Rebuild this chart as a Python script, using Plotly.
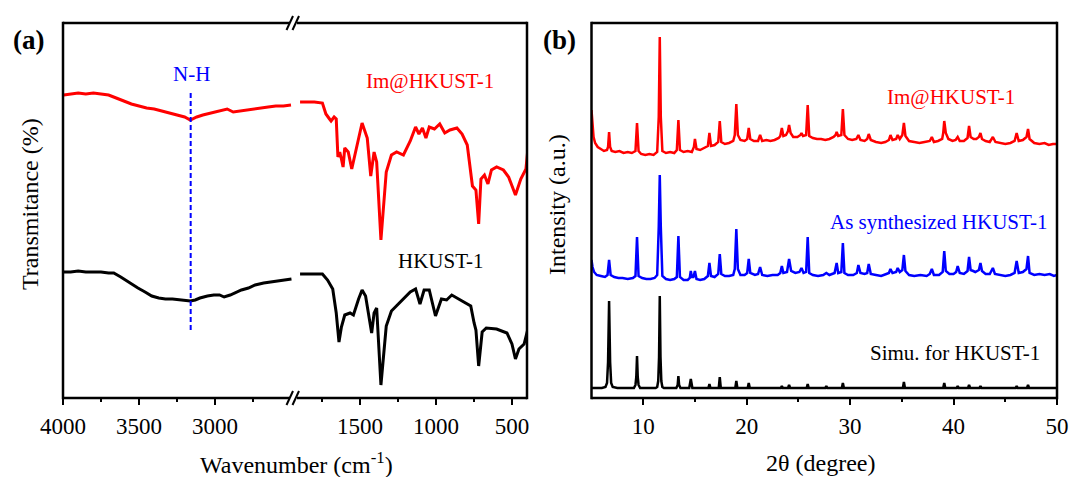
import plotly.graph_objects as go

# ---------------- FTIR spectra (panel a) ----------------
# high-wavenumber segment (4000-2500 cm-1): (wavenumber, transmittance a.u.)
FTIR_IM_HIGH = [
    (3995, 303), (3950, 304), (3900, 305), (3850, 304), (3800, 305), (3750, 304),
    (3700, 303), (3650, 300), (3600, 297), (3550, 294), (3500, 292), (3450, 290),
    (3400, 289), (3350, 287), (3300, 285), (3250, 283), (3200, 281), (3162, 278),
    (3120, 281), (3080, 283), (3050, 284), (3000, 286), (2960, 287), (2920, 289),
    (2880, 286), (2840, 287), (2800, 288), (2750, 289), (2700, 290), (2650, 291),
    (2600, 292), (2550, 292), (2500, 293),
]
# low-wavenumber segment (1900-400 cm-1)
FTIR_IM_LOW = [
    (1894, 296), (1800, 296), (1747, 295), (1724, 284), (1700, 279), (1690, 277),
    (1670, 281), (1656, 279), (1645, 241), (1633, 246), (1622, 239), (1611, 231),
    (1600, 250), (1577, 246), (1554, 229), (1520, 253), (1486, 275), (1452, 260),
    (1429, 222), (1407, 246), (1390, 236), (1362, 158), (1327, 226), (1293, 243),
    (1259, 246), (1214, 243), (1169, 257), (1134, 271), (1112, 264), (1089, 270),
    (1066, 260), (1044, 271), (1010, 269), (975, 274), (942, 265), (908, 268),
    (862, 270), (828, 264), (794, 253), (760, 212), (737, 208), (719, 174),
    (704, 219), (681, 223), (658, 214), (635, 228), (601, 231), (556, 228),
    (522, 221), (477, 203), (442, 219), (408, 229), (397, 246),
]
FTIR_HK_HIGH = [
    (3995, 126), (3950, 126), (3900, 127), (3850, 126), (3800, 126), (3750, 126),
    (3700, 125), (3666, 125), (3620, 121), (3560, 115), (3507, 110), (3460, 106),
    (3416, 102), (3370, 100), (3326, 99), (3280, 99), (3220, 98), (3162, 97),
    (3130, 98), (3099, 100), (3050, 102), (3008, 103), (2970, 103), (2940, 101),
    (2900, 103), (2872, 105), (2826, 108), (2780, 110), (2736, 113), (2680, 115),
    (2600, 117), (2550, 118), (2497, 119),
]
FTIR_HK_LOW = [
    (1894, 124), (1800, 124), (1747, 124), (1713, 118), (1679, 109), (1656, 85),
    (1638, 56), (1622, 71), (1600, 83), (1565, 85), (1543, 83), (1509, 99),
    (1486, 108), (1463, 102), (1440, 78), (1423, 65), (1407, 85), (1390, 90),
    (1362, 13), (1327, 72), (1293, 87), (1237, 96), (1169, 106), (1134, 109),
    (1105, 94), (1078, 108), (1044, 108), (1003, 82), (964, 99), (930, 98),
    (896, 103), (828, 97), (771, 92), (749, 75), (737, 68), (719, 32), (696, 66),
    (669, 70), (601, 69), (533, 65), (500, 54), (477, 39), (454, 49), (420, 54),
    (397, 68),
]
NH_WAVENUMBER = 3160
NH_SPAN = (68, 306)

FTIR_TICKS_HIGH = [4000, 3500, 3000]
FTIR_MINOR_HIGH = [3750, 3250, 2750]
FTIR_TICKS_LOW = [1500, 1000, 500]
FTIR_MINOR_LOW = [1750, 1250, 750]

# ---------------- XRD patterns (panel b) ----------------
XRD_IM = [
    (5.0, 287), (5.1, 270), (5.2, 260), (5.35, 254), (5.6, 250), (5.9, 248), (6.2, 246),
    (6.5, 247), (6.6, 250), (6.7, 265), (6.8, 250), (6.95, 246), (7.3, 245), (7.7, 246),
    (8.1, 244), (8.5, 245), (8.9, 244), (9.25, 246), (9.4, 274), (9.55, 246), (9.8, 243),
    (10.2, 242), (10.6, 243), (11.0, 242), (11.35, 245), (11.5, 280), (11.6, 360),
    (11.7, 280), (11.85, 246), (12.2, 244), (12.6, 245), (13.0, 244), (13.25, 247),
    (13.4, 277), (13.55, 247), (13.9, 245), (14.3, 246), (14.7, 245), (14.9, 250),
    (15.0, 258), (15.15, 248), (15.5, 247), (15.9, 249), (16.25, 251), (16.4, 264),
    (16.55, 251), (16.9, 252), (17.25, 255), (17.4, 276), (17.55, 255), (17.9, 253),
    (18.3, 254), (18.7, 256), (18.85, 262), (19.0, 293), (19.15, 262), (19.4, 257),
    (19.8, 256), (20.05, 258), (20.2, 269), (20.35, 258), (20.7, 256), (21.1, 256),
    (21.3, 262), (21.5, 256), (21.9, 257), (22.3, 256), (22.7, 257), (23.1, 259),
    (23.25, 261), (23.4, 269), (23.55, 261), (23.8, 262), (24.0, 266), (24.1, 272),
    (24.25, 264), (24.5, 260), (24.9, 260), (25.2, 262), (25.3, 264), (25.45, 261),
    (25.75, 262), (25.9, 292), (26.05, 261), (26.4, 259), (26.8, 258), (27.2, 258),
    (27.6, 257), (28.0, 258), (28.4, 260), (28.6, 262), (28.7, 265), (28.85, 261),
    (29.15, 262), (29.3, 288), (29.45, 262), (29.8, 258), (30.2, 257), (30.6, 258),
    (30.8, 262), (31.0, 257), (31.4, 256), (31.65, 258), (31.8, 263), (32.0, 257),
    (32.5, 255), (33.0, 254), (33.4, 255), (33.75, 257), (33.9, 262), (34.1, 257),
    (34.45, 258), (34.6, 262), (34.8, 258), (35.05, 262), (35.2, 274), (35.35, 261),
    (35.7, 256), (36.2, 255), (36.7, 254), (37.2, 255), (37.7, 256), (37.9, 260),
    (38.1, 255), (38.5, 256), (38.9, 258), (39.0, 264), (39.1, 276), (39.25, 264),
    (39.5, 258), (39.9, 256), (40.2, 257), (40.4, 260), (40.6, 256), (41.0, 256),
    (41.35, 259), (41.5, 271), (41.65, 260), (41.95, 258), (42.2, 258), (42.45, 260),
    (42.6, 264), (42.75, 258), (43.1, 256), (43.5, 255), (43.8, 260), (44.05, 255),
    (44.5, 254), (45.0, 253), (45.5, 254), (45.9, 256), (46.1, 264), (46.3, 256),
    (46.7, 257), (47.05, 260), (47.2, 268), (47.35, 258), (47.8, 254), (48.3, 253),
    (48.8, 254), (49.2, 252), (49.6, 253), (50.0, 253),
]
XRD_AS = [
    (5.0, 137), (5.1, 130), (5.25, 125), (5.5, 122), (5.9, 121), (6.3, 120), (6.55, 122),
    (6.7, 137), (6.85, 122), (7.2, 120), (7.6, 119), (8.0, 119), (8.5, 118), (9.0, 119),
    (9.25, 121), (9.4, 160), (9.55, 121), (9.9, 119), (10.3, 118), (10.7, 118),
    (11.1, 119), (11.35, 122), (11.5, 170), (11.6, 222), (11.7, 170), (11.85, 121),
    (12.2, 118), (12.6, 117), (13.0, 118), (13.25, 120), (13.4, 161), (13.55, 120),
    (13.9, 117), (14.3, 117), (14.5, 119), (14.6, 126), (14.7, 120), (14.85, 120),
    (15.0, 126), (15.15, 118), (15.5, 117), (15.9, 118), (16.25, 121), (16.4, 134),
    (16.55, 121), (16.9, 120), (17.25, 123), (17.4, 143), (17.55, 123), (17.9, 121),
    (18.3, 121), (18.7, 122), (18.85, 128), (19.0, 168), (19.15, 128), (19.4, 122),
    (19.8, 122), (20.05, 124), (20.2, 138), (20.35, 124), (20.8, 122), (21.1, 123),
    (21.3, 130), (21.5, 122), (22.0, 121), (22.5, 122), (23.0, 122), (23.25, 124),
    (23.4, 131), (23.55, 124), (23.9, 125), (24.1, 138), (24.3, 126), (24.7, 124),
    (25.1, 125), (25.3, 129), (25.5, 124), (25.75, 125), (25.9, 160), (26.05, 124),
    (26.4, 122), (26.9, 121), (27.4, 122), (27.7, 124), (28.0, 122), (28.5, 124),
    (28.7, 134), (28.85, 124), (29.15, 125), (29.3, 154), (29.45, 124), (29.8, 122),
    (30.3, 122), (30.65, 124), (30.8, 132), (31.0, 124), (31.4, 123), (31.65, 124),
    (31.8, 133), (32.0, 123), (32.5, 122), (33.0, 121), (33.5, 123), (33.75, 124),
    (33.9, 128), (34.1, 124), (34.45, 125), (34.6, 129), (34.8, 125), (35.05, 127),
    (35.2, 142), (35.35, 126), (35.7, 122), (36.2, 121), (36.8, 122), (37.4, 121),
    (37.7, 123), (37.9, 128), (38.1, 122), (38.6, 122), (38.95, 125), (39.1, 146),
    (39.25, 126), (39.6, 123), (40.0, 123), (40.25, 125), (40.4, 131), (40.6, 124),
    (41.0, 123), (41.35, 126), (41.5, 140), (41.65, 127), (41.9, 126), (42.1, 125),
    (42.45, 127), (42.6, 134), (42.75, 126), (43.1, 123), (43.5, 123), (43.8, 129),
    (44.0, 123), (44.5, 122), (45.0, 121), (45.5, 122), (45.9, 124), (46.1, 136),
    (46.3, 124), (46.7, 125), (47.05, 128), (47.2, 141), (47.35, 124), (47.8, 122),
    (48.3, 123), (48.8, 122), (49.3, 123), (49.7, 121), (50.0, 122),
]
XRD_SIM = [
    (5.0, 9), (6.0, 9), (6.35, 10), (6.5, 14), (6.6, 35), (6.7, 96), (6.8, 35), (6.9, 14),
    (7.05, 10), (7.5, 9), (9.1, 9), (9.25, 12), (9.33, 20), (9.4, 41), (9.47, 20),
    (9.55, 12), (9.7, 9), (11.2, 9), (11.35, 10), (11.45, 16), (11.53, 40), (11.6, 101),
    (11.67, 40), (11.75, 16), (11.85, 10), (12.0, 9), (13.2, 9), (13.33, 12), (13.4, 21),
    (13.47, 12), (13.6, 9), (14.45, 9), (14.6, 18), (14.75, 9), (16.3, 9), (16.4, 13),
    (16.5, 9), (17.3, 9), (17.4, 20), (17.5, 9), (18.9, 9), (19.0, 16), (19.1, 9),
    (20.1, 9), (20.2, 14), (20.3, 9), (23.3, 9), (23.4, 11), (23.5, 9), (24.0, 9),
    (24.1, 12), (24.2, 9), (25.8, 9), (25.9, 13), (26.0, 9), (27.6, 9), (27.7, 11),
    (27.8, 9), (29.2, 9), (29.3, 14), (29.4, 9), (35.1, 9), (35.2, 15), (35.3, 9),
    (39.0, 9), (39.1, 14), (39.2, 9), (40.3, 9), (40.4, 11), (40.5, 9), (41.4, 9),
    (41.5, 12), (41.6, 9), (42.5, 9), (42.6, 11), (42.7, 9), (46.0, 9), (46.1, 11),
    (46.2, 9), (47.1, 9), (47.2, 12), (47.3, 9), (50.0, 9),
]
XRD_TICKS = [10, 20, 30, 40, 50]
XRD_MINOR = [15, 25, 35, 45]

RED = "#ff0000"
BLUE = "#0000ff"
BLACK = "#000000"
SERIF = "Liberation Serif, Times New Roman, Times, DejaVu Serif, serif"

W, H = 1072, 477


def px(x):
    return x / W


def py(y):
    return 1 - y / H


# frame edges (pixels)
A_L, A_BRK, A_R = 63, 296, 527
B_L, B_R = 591.5, 1057
TOP, BOT = 23, 398

fig = go.Figure()


def add(series, color, xa, ya, width):
    xs, ys = zip(*series)
    fig.add_trace(go.Scatter(x=list(xs), y=list(ys), mode="lines", xaxis=xa, yaxis=ya,
                             line=dict(color=color, width=width), showlegend=False,
                             hoverinfo="skip"))


add(FTIR_IM_HIGH, RED, "x", "y", 3)
add(FTIR_HK_HIGH, BLACK, "x", "y", 3)
add(FTIR_IM_LOW, RED, "x2", "y", 3)
add(FTIR_HK_LOW, BLACK, "x2", "y", 3)
fig.add_trace(go.Scatter(x=[NH_WAVENUMBER, NH_WAVENUMBER], y=list(NH_SPAN), mode="lines",
                         xaxis="x", yaxis="y", showlegend=False, hoverinfo="skip",
                         line=dict(color=BLUE, width=2, dash="5px,3px")))

add(XRD_IM, RED, "x3", "y3", 2.5)
add(XRD_AS, BLUE, "x3", "y3", 2.5)
add(XRD_SIM, BLACK, "x3", "y3", 2.5)

tickfont = dict(family=SERIF, size=23, color=BLACK)
common_x = dict(showgrid=False, zeroline=False, showline=False, ticks="outside",
                ticklen=6, tickwidth=2, tickcolor=BLACK, tickfont=tickfont,
                tickmode="array", ticklabelstandoff=1, automargin=False)
common_y = dict(showgrid=False, zeroline=False, showline=False, showticklabels=False,
                ticks="", automargin=False)

# 250 cm-1 every 38 px on both halves of the broken axis
scale = 38 / 250
fig.update_layout(
    template="none",
    width=W, height=H, autosize=False,
    margin=dict(l=0, r=0, t=0, b=0, pad=0, autoexpand=False),
    paper_bgcolor="white", plot_bgcolor="white",
    font=dict(family=SERIF, color=BLACK),
    xaxis=dict(domain=[px(A_L), px(A_BRK)], anchor="y",
               range=[4000, 4000 - (A_BRK - A_L) / scale],
               tickvals=FTIR_TICKS_HIGH,
               minor=dict(tickvals=FTIR_MINOR_HIGH, ticks="outside", ticklen=3,
                          tickwidth=2, tickcolor=BLACK, showgrid=False),
               **common_x),
    xaxis2=dict(domain=[px(A_BRK), px(A_R)], anchor="y",
                range=[401 + (A_R - A_BRK) / scale, 401],
                tickvals=FTIR_TICKS_LOW,
                minor=dict(tickvals=FTIR_MINOR_LOW, ticks="outside", ticklen=3,
                           tickwidth=2, tickcolor=BLACK, showgrid=False),
                **common_x),
    yaxis=dict(domain=[py(BOT), py(TOP)], anchor="x", range=[0, BOT - TOP], **common_y),
    xaxis3=dict(domain=[px(B_L), px(B_R)], anchor="y3", range=[5, 50],
                tickvals=XRD_TICKS,
                minor=dict(tickvals=XRD_MINOR, ticks="outside", ticklen=3,
                           tickwidth=2, tickcolor=BLACK, showgrid=False),
                **common_x),
    yaxis3=dict(domain=[py(BOT), py(TOP)], anchor="x3", range=[-1, BOT - TOP - 1],
                **common_y),
)

shapes = []


def seg(x0, y0, x1, y1, w=2.5):
    shapes.append(dict(type="line", xref="paper", yref="paper",
                       x0=px(x0), y0=py(y0), x1=px(x1), y1=py(y1),
                       line=dict(color=BLACK, width=w)))


# panel (a) frame with broken top and bottom edges
gap_l, gap_r = 290, 297
seg(A_L, TOP, gap_l, TOP)
seg(gap_r, TOP, A_R, TOP)
seg(A_L, BOT, gap_l, BOT)
seg(gap_r, BOT, A_R, BOT)
seg(A_L, TOP - 1.2, A_L, BOT + 1.2)
seg(A_R, TOP - 1.2, A_R, BOT + 1.2)
for yb in (TOP, BOT):
    seg(286.5, yb + 7, 293, yb - 7, 2)
    seg(292.5, yb + 7, 299, yb - 7, 2)

# panel (b) frame
seg(B_L, TOP, B_R, TOP)
seg(B_L, BOT, B_R, BOT)
seg(B_L, TOP - 1.2, B_L, BOT + 1.2)
seg(B_R, TOP - 1.2, B_R, BOT + 1.2)

fig.update_layout(shapes=shapes)

ann = []


def label(text, x, y, size=21, color=BLACK, angle=0, bold=False):
    ann.append(dict(text=f"<b>{text}</b>" if bold else text, xref="paper", yref="paper",
                    x=px(x), y=py(y), xanchor="center", yanchor="middle",
                    showarrow=False, textangle=angle,
                    font=dict(family=SERIF, size=size, color=color)))


label("(a)", 28, 40, size=27, bold=True)
label("(b)", 559, 40, size=27, bold=True)
label("N-H", 191, 74, color=BLUE)
label("Im@HKUST-1", 430, 81, color=RED)
label("HKUST-1", 441, 261)
label("Im@HKUST-1", 951, 97, color=RED)
label("As synthesized HKUST-1", 938, 222, color=BLUE)
label("Simu. for HKUST-1", 955, 353)
label("Wavenumber (cm<sup>-1</sup>)", 296, 463, size=24)
label("2θ (degree)", 820, 463, size=24)
label("Transmitance (%)", 30, 204, size=24, angle=-90)
label("Intensity (a.u.)", 557, 205, size=24, angle=-90)
fig.update_layout(annotations=ann)

fig.write_html("out.html")
